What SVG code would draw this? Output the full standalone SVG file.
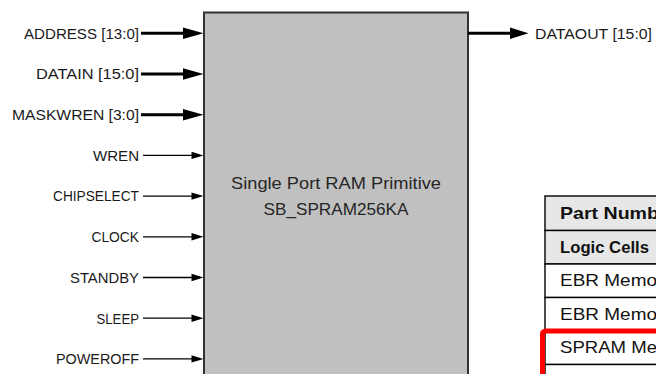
<svg xmlns="http://www.w3.org/2000/svg" width="656" height="374" viewBox="0 0 656 374">
<defs>
<style>
.lbl{font-family:"Liberation Sans",Arial,sans-serif;font-size:15px;fill:#1a1a1a;}
.ttl{font-family:"Liberation Sans",Arial,sans-serif;font-size:17px;fill:#262626;text-anchor:middle;}
.tb{font-family:"Liberation Sans",Arial,sans-serif;font-size:16.5px;fill:#111;font-weight:bold;}
.tn{font-family:"Liberation Sans",Arial,sans-serif;font-size:16.5px;fill:#111;}
.thick{stroke:#000;stroke-width:3;fill:none;}
.thin{stroke:#000;stroke-width:1.3;fill:none;}
.cell{stroke:#000;stroke-width:1.4;}
</style>
</defs>
<rect width="656" height="374" fill="#fff"/>
<g id="block">
<rect x="204" y="12.5" width="264" height="380" fill="#c0c0c0" stroke="#333" stroke-width="2"/>
<text class="ttl" x="336" y="189" textLength="210" lengthAdjust="spacingAndGlyphs">Single Port RAM Primitive</text>
<text class="ttl" x="336" y="215" textLength="145" lengthAdjust="spacingAndGlyphs">SB_SPRAM256KA</text>
</g>
<g id="labels">
<text class="lbl" x="139" y="38.6" text-anchor="end" textLength="115" lengthAdjust="spacingAndGlyphs">ADDRESS [13:0]</text>
<text class="lbl" x="139" y="79.3" text-anchor="end" textLength="103" lengthAdjust="spacingAndGlyphs">DATAIN [15:0]</text>
<text class="lbl" x="139" y="120" text-anchor="end" textLength="127" lengthAdjust="spacingAndGlyphs">MASKWREN [3:0]</text>
<text class="lbl" x="139" y="160.7" text-anchor="end" textLength="46" lengthAdjust="spacingAndGlyphs">WREN</text>
<text class="lbl" x="139" y="201.4" text-anchor="end" textLength="86" lengthAdjust="spacingAndGlyphs">CHIPSELECT</text>
<text class="lbl" x="139" y="242.1" text-anchor="end" textLength="47.5" lengthAdjust="spacingAndGlyphs">CLOCK</text>
<text class="lbl" x="139" y="282.8" text-anchor="end" textLength="69" lengthAdjust="spacingAndGlyphs">STANDBY</text>
<text class="lbl" x="139" y="323.5" text-anchor="end" textLength="42.5" lengthAdjust="spacingAndGlyphs">SLEEP</text>
<text class="lbl" x="139" y="364.2" text-anchor="end" textLength="83" lengthAdjust="spacingAndGlyphs">POWEROFF</text>
<text class="lbl" x="535" y="38.6" textLength="117" lengthAdjust="spacingAndGlyphs">DATAOUT [15:0]</text>
</g>
<g id="connectors">
<line class="thick" x1="141" y1="33.3" x2="186" y2="33.3"/>
<polygon points="183,27.5 203.5,33.3 183,39" fill="#000"/>
<line class="thick" x1="141" y1="74" x2="186" y2="74"/>
<polygon points="183,68.2 203.5,74 183,79.8" fill="#000"/>
<line class="thick" x1="141" y1="114.7" x2="186" y2="114.7"/>
<polygon points="183,108.9 203.5,114.7 183,120.5" fill="#000"/>
<line class="thin" x1="143" y1="155.4" x2="193" y2="155.4"/>
<polygon points="191.5,151.7 203.5,155.4 191.5,159.1" fill="#000"/>
<line class="thin" x1="143" y1="196.1" x2="193" y2="196.1"/>
<polygon points="191.5,192.4 203.5,196.1 191.5,199.8" fill="#000"/>
<line class="thin" x1="143" y1="236.8" x2="193" y2="236.8"/>
<polygon points="191.5,233.1 203.5,236.8 191.5,240.5" fill="#000"/>
<line class="thin" x1="143" y1="277.5" x2="193" y2="277.5"/>
<polygon points="191.5,273.8 203.5,277.5 191.5,281.2" fill="#000"/>
<line class="thin" x1="143" y1="318.2" x2="193" y2="318.2"/>
<polygon points="191.5,314.5 203.5,318.2 191.5,321.9" fill="#000"/>
<line class="thin" x1="143" y1="358.9" x2="193" y2="358.9"/>
<polygon points="191.5,355.2 203.5,358.9 191.5,362.6" fill="#000"/>
<line class="thick" x1="468" y1="33.3" x2="513" y2="33.3"/>
<polygon points="510,27.5 528.5,33.3 510,39" fill="#000"/>
</g>
<g id="table">
<rect class="cell" x="545" y="196" width="130" height="34.5" fill="#e7e7e7"/>
<rect class="cell" x="545" y="230.5" width="130" height="33.5" fill="#e7e7e7"/>
<rect class="cell" x="545" y="264" width="130" height="33.5" fill="#fff"/>
<rect class="cell" x="545" y="297.5" width="130" height="33.5" fill="#fff"/>
<rect class="cell" x="545" y="331" width="130" height="33.5" fill="#fff"/>
<rect class="cell" x="545" y="364.5" width="130" height="33.5" fill="#fff"/>
<text class="tb" x="560" y="219" textLength="99" lengthAdjust="spacingAndGlyphs">Part Numb</text>
<text class="tb" x="560" y="252.7" textLength="89" lengthAdjust="spacingAndGlyphs">Logic Cells</text>
<text class="tn" x="560" y="286" textLength="97" lengthAdjust="spacingAndGlyphs">EBR Memo</text>
<text class="tn" x="560" y="319.5" textLength="97" lengthAdjust="spacingAndGlyphs">EBR Memo</text>
<text class="tn" x="560" y="353" textLength="97" lengthAdjust="spacingAndGlyphs">SPRAM Me</text>
<rect x="542.5" y="331" width="140" height="60" rx="3" fill="none" stroke="#f00" stroke-width="5"/>
</g>
</svg>
